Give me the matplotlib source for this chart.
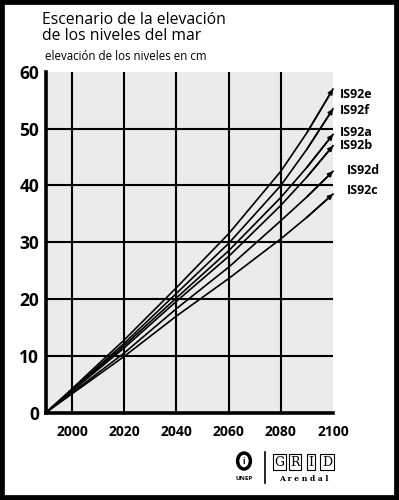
import matplotlib
matplotlib.use("Agg")
import matplotlib.pyplot as plt
from matplotlib.patches import Rectangle, Circle

plt.rcParams['font.family'] = ['Open Sans', 'DejaVu Sans']

# values (cm of sea level rise since 1990)
years = [1990, 2000, 2020, 2040, 2060, 2080, 2090, 2100]
is92e = [0, 4.2, 12.8, 22.0, 31.5, 42.5, 49.3, 57.0]
is92f = [0, 4.0, 12.2, 21.0, 29.8, 40.0, 46.4, 53.5]
is92a = [0, 3.9, 11.8, 20.2, 28.5, 37.9, 43.2, 49.0]
is92b = [0, 3.8, 11.4, 19.6, 27.5, 36.5, 41.5, 47.0]
is92d = [0, 3.5, 10.5, 18.3, 25.6, 33.8, 38.0, 42.5]
is92c = [0, 3.3, 9.9, 17.0, 23.6, 30.6, 34.4, 38.5]

series = [is92e, is92f, is92a, is92b, is92d, is92c]
names = ['IS92e', 'IS92f', 'IS92a', 'IS92b', 'IS92d', 'IS92c']
# label positions (year, cm)
label_x = [2102.5, 2102.5, 2102.5, 2102.5, 2105.2, 2105.2]
label_y = [56.0, 53.3, 49.4, 47.1, 42.7, 39.2]

yticks = [0, 10, 20, 30, 40, 50, 60]
xticks = [2000, 2020, 2040, 2060, 2080, 2100]
vgrid = [2000, 2020, 2040, 2060, 2080]
hgrid = [10, 20, 30, 40, 50]

fig = plt.figure(figsize=(3.99, 5.0), dpi=100)
ax = fig.add_axes([0.1153, 0.175, 0.7193, 0.681])
ax.set_facecolor('#ebebeb')
ax.set_xlim(1990, 2100)
ax.set_ylim(0, 60)

for g in vgrid:
    ax.axvline(g, color='black', lw=1.5, zorder=1)
for g in hgrid:
    ax.axhline(g, color='black', lw=1.5, zorder=1)

for vals in series:
    ax.plot(years, vals, color='black', lw=1.2, zorder=3, clip_on=False)
    ax.annotate('', xy=(years[-1], vals[-1]), xytext=(years[-2], vals[-2]),
                arrowprops=dict(arrowstyle='-|>', color='black', lw=1.2,
                                mutation_scale=7, shrinkA=0, shrinkB=0),
                annotation_clip=False, zorder=4)

for n, lx, ly in zip(names, label_x, label_y):
    ax.text(lx, ly, n, fontsize=9, fontweight='bold', ha='left', va='center')

for side in ['top', 'right']:
    ax.spines[side].set_visible(False)
ax.spines['left'].set_linewidth(2.6)
ax.spines['bottom'].set_linewidth(2.6)
ax.set_xticks(xticks)
ax.set_yticks(yticks)
ax.set_xticklabels([str(t) for t in xticks], fontsize=10, fontweight='bold')
ax.set_yticklabels([str(t) for t in yticks], fontsize=12.5, fontweight='bold')
ax.tick_params(length=0, pad=5)
ax.tick_params(axis='x', pad=9)

fig.text(0.105, 0.975, 'Escenario de la elevación\nde los niveles del mar',
         fontsize=11.3, ha='left', va='top', linespacing=1.0)
fig.text(0.113, 0.886, 'elevación de los niveles en cm', fontsize=8.3,
         ha='left', va='center')

# logo block, bottom right
fig.patches.append(Circle((244 / 399, 1 - 461 / 500), 0.016, transform=fig.transFigure,
                          facecolor='white', edgecolor='black', lw=2.5))
fig.text(244 / 399, 1 - 461 / 500, 'i', fontsize=6, fontweight='bold',
         ha='center', va='center')
fig.text(244 / 399, 1 - 478 / 500, 'UNEP', fontsize=4.5, fontweight='bold',
         ha='center', va='center')
fig.add_artist(plt.Line2D([265 / 399, 265 / 399], [1 - 452 / 500, 1 - 483 / 500],
                          color='black', lw=1.2, transform=fig.transFigure))
for i, ch in enumerate('GRID'):
    fig.text((279 + i * 16) / 399, 1 - 462 / 500, ch, fontsize=9,
             family='DejaVu Serif', ha='center', va='center',
             bbox=dict(boxstyle='square,pad=0.12', facecolor='white',
                       edgecolor='black', lw=0.8))
fig.text(304 / 399, 1 - 479 / 500, 'A r e n d a l', fontsize=5.5,
         family='DejaVu Serif', fontweight='bold', ha='center', va='center')

# thick black frame round the whole picture
fig.patches.append(Rectangle((0, 0), 1, 1, transform=fig.transFigure,
                             fill=False, edgecolor='black', lw=7))

fig.savefig('out.png', dpi=100)
